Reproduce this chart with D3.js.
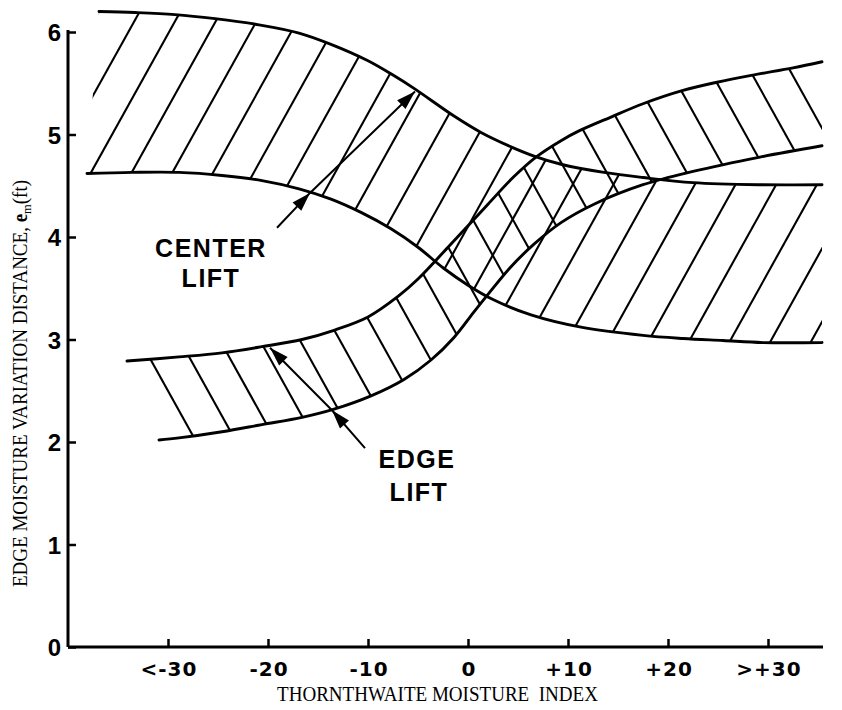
<!DOCTYPE html>
<html><head><meta charset="utf-8">
<script src="https://cdn.jsdelivr.net/npm/d3@7"></script>
<style>body{margin:0;background:#fff}svg{display:block}</style>
</head><body><svg id="c" width="842" height="710"></svg>
<script>
// ---------- data ----------
const xTickValues = [-30, -20, -10, 0, 10, 20, 30];
const xTickLabels = ["<-30", "-20", "-10", "0", "+10", "+20", ">+30"];
const yTickValues = [0, 1, 2, 3, 4, 5, 6];
const yTickLabels = ["0", "1", "2", "3", "4", "5", "6"];

// Center lift band (Thornthwaite index, e_m ft)
const centerLiftUpper = [[-36.9,6.20],[-33.3,6.19],[-29.3,6.17],[-25.3,6.13],[-20.9,6.07],[-16.9,5.99],[-13.7,5.88],[-10.0,5.72],[-7.5,5.58],[-5.4,5.45],[-1.4,5.18],[1.3,5.02],[4.3,4.88],[6.6,4.79],[9.3,4.71],[13.6,4.63],[17.5,4.58],[22.5,4.53],[29.2,4.51],[35.4,4.51]];
const centerLiftLower = [[-38.1,4.62],[-33.6,4.63],[-28.9,4.63],[-24.6,4.60],[-20.6,4.55],[-16.9,4.47],[-13.7,4.37],[-10.7,4.24],[-7.7,4.08],[-5.0,3.90],[-2.5,3.70],[0,3.53],[2.5,3.39],[6.3,3.24],[11.3,3.12],[17.5,3.04],[21.5,3.01],[25.5,2.99],[29.5,2.97],[35.4,2.97]];
// Edge lift band
const edgeLiftUpper = [[-34.1,2.79],[-28.9,2.83],[-24.6,2.87],[-20.6,2.93],[-16.6,3.00],[-13.4,3.09],[-10.0,3.22],[-7.0,3.42],[-5.0,3.59],[-2.0,3.90],[0,4.11],[2.0,4.32],[4.6,4.59],[6.8,4.78],[9.3,4.94],[11.0,5.03],[14.3,5.17],[17.5,5.30],[21.5,5.43],[24.9,5.51],[28.5,5.58],[32.5,5.65],[35.4,5.71]];
const edgeLiftLower = [[-30.9,2.02],[-28.9,2.04],[-24.6,2.10],[-20.6,2.17],[-16.6,2.24],[-13.4,2.32],[-9.7,2.45],[-6.4,2.61],[-3.7,2.80],[-1.4,3.02],[0.6,3.27],[2.0,3.44],[4.3,3.71],[6.6,3.93],[9.3,4.14],[12.6,4.32],[17.5,4.51],[22.5,4.64],[29.2,4.78],[35.4,4.89]];

// Annotation arrows: tail, first tip, second tip
const centerArrow = [[-19.1,4.09],[-15.8,4.43],[-5.3,5.42]];
const edgeArrow = [[-10.3,1.94],[-13.6,2.31],[-19.8,2.92]];

// ---------- layout / style ----------
const svg = d3.select("#c");
const x = d3.scaleLinear().domain([-40, 35.5]).range([68, 823]);
const y = d3.scaleLinear().domain([0, 6]).range([647, 32]);
const defs = svg.append("defs");
const line = d3.line().x(d => x(d[0])).y(d => y(d[1])).curve(d3.curveCatmullRom.alpha(0.5));

function bandPath(upper, lower) {
  return line(upper) + line(lower.slice().reverse()).replace(/^M/, "L") + "Z";
}

function drawHatch(id, upper, lower, dir, spacing, anchor) {
  defs.append("clipPath").attr("id", id).append("path").attr("d", bandPath(upper, lower));
  const g = svg.append("g").attr("clip-path", `url(#${id})`);
  const ax = x(anchor[0]), ay = y(anchor[1]);
  const k = 1 / 1.8;
  const segs = d3.range(-30, 31).map(i => {
    const x0 = ax + i * spacing;
    return dir > 0
      ? [[x0 + ay * k, 0], [x0 - (710 - ay) * k, 710]]
      : [[x0 - ay * k, 0], [x0 + (710 - ay) * k, 710]];
  });
  g.selectAll("line").data(segs).join("line")
    .attr("x1", d => d[0][0]).attr("y1", d => d[0][1])
    .attr("x2", d => d[1][0]).attr("y2", d => d[1][1])
    .attr("stroke", "#000").attr("stroke-width", 2.1);
}

drawHatch("clipCL", centerLiftUpper, centerLiftLower, 1, 40.7, [19.2, 4.615]);
drawHatch("clipEL", edgeLiftUpper, edgeLiftLower, -1, 40, [-15.6, 2.78]);

[centerLiftUpper, centerLiftLower, edgeLiftUpper, edgeLiftLower].forEach(c => {
  svg.append("path").attr("d", line(c)).attr("fill", "none")
    .attr("stroke", "#000").attr("stroke-width", 2.9).attr("stroke-linecap", "round");
});

// arrows
function drawArrow(pts) {
  const p = pts.map(d => [x(d[0]), y(d[1])]);
  svg.append("polyline").attr("points", p.map(d => d.join(",")).join(" "))
    .attr("fill", "none").attr("stroke", "#000").attr("stroke-width", 2);
  [[p[0], p[1]], [p[1], p[2]]].forEach(([a, b]) => {
    const dx = b[0] - a[0], dy = b[1] - a[1], L = Math.hypot(dx, dy);
    const ux = dx / L, uy = dy / L, nx = -uy, ny = ux;
    const len = 19, w = 6;
    const bx = b[0] - ux * len, by = b[1] - uy * len;
    svg.append("polygon").attr("points",
      `${b[0]},${b[1]} ${bx + nx * w},${by + ny * w} ${bx - nx * w},${by - ny * w}`)
      .attr("fill", "#000");
  });
}
drawArrow(centerArrow);
drawArrow(edgeArrow);

// labels
const lab = (t, cx, by) => svg.append("text").attr("x", cx).attr("y", by)
  .attr("text-anchor", "middle").attr("font-family", "Liberation Sans, Arial, sans-serif")
  .attr("font-weight", "bold").attr("font-size", 25).attr("letter-spacing", 1.5).text(t);
lab("CENTER", 211, 257);
lab("LIFT", 211, 287);
lab("EDGE", 417, 468);
lab("LIFT", 419, 501);

// axes
const xAxis = d3.axisBottom(x).tickValues(xTickValues).tickSize(-8).tickSizeOuter(0)
  .tickFormat((d, i) => xTickLabels[i]);
const gx = svg.append("g").attr("transform", `translate(0,${y(0)})`).call(xAxis);
gx.select(".domain").attr("d", `M${x(-40)},0H${x(35.5)}`).attr("stroke-width", 3);
gx.selectAll(".tick line").attr("stroke-width", 2.5);
gx.selectAll(".tick text").attr("y", 29).attr("dy", 0).attr("dx", 0.5)
  .attr("font-family", "DejaVu Sans, sans-serif").attr("font-size", 20)
  .attr("letter-spacing", 1).attr("font-weight", "bold").attr("fill", "#000");

const yAxis = d3.axisLeft(y).tickValues(yTickValues).tickSize(-8).tickSizeOuter(0)
  .tickFormat((d, i) => yTickLabels[i]);
const gy = svg.append("g").attr("transform", `translate(${x(-40)},0)`).call(yAxis);
gy.select(".domain").attr("d", `M0,${y(0)}V${y(6) - 2}`).attr("stroke-width", 3);
gy.selectAll(".tick line").attr("stroke-width", 2.5);
gy.selectAll(".tick text").attr("x", -7).attr("dy", "0.36em")
  .attr("font-family", "Liberation Sans, Arial, sans-serif").attr("font-size", 24)
  .attr("font-weight", "bold").attr("fill", "#000");

// axis titles
svg.append("text").attr("x", 277).attr("y", 701)
  .attr("font-family", "Liberation Serif, Times New Roman, serif").attr("font-size", 20)
  .attr("textLength", 321).attr("lengthAdjust", "spacingAndGlyphs")
  .style("white-space", "pre").text("THORNTHWAITE MOISTURE  INDEX");

const yt = svg.append("text").attr("transform", "translate(27,587) rotate(-90)")
  .attr("font-family", "Liberation Serif, Times New Roman, serif").attr("font-size", 20)
  .attr("textLength", 407).attr("lengthAdjust", "spacingAndGlyphs");
yt.append("tspan").text("EDGE MOISTURE VARIATION DISTANCE, ");
yt.append("tspan").attr("font-weight", "bold").text("e");
yt.append("tspan").attr("font-size", 13).attr("dy", 4).text("m");
yt.append("tspan").attr("dy", -4).text("(ft)");
</script></body></html>
